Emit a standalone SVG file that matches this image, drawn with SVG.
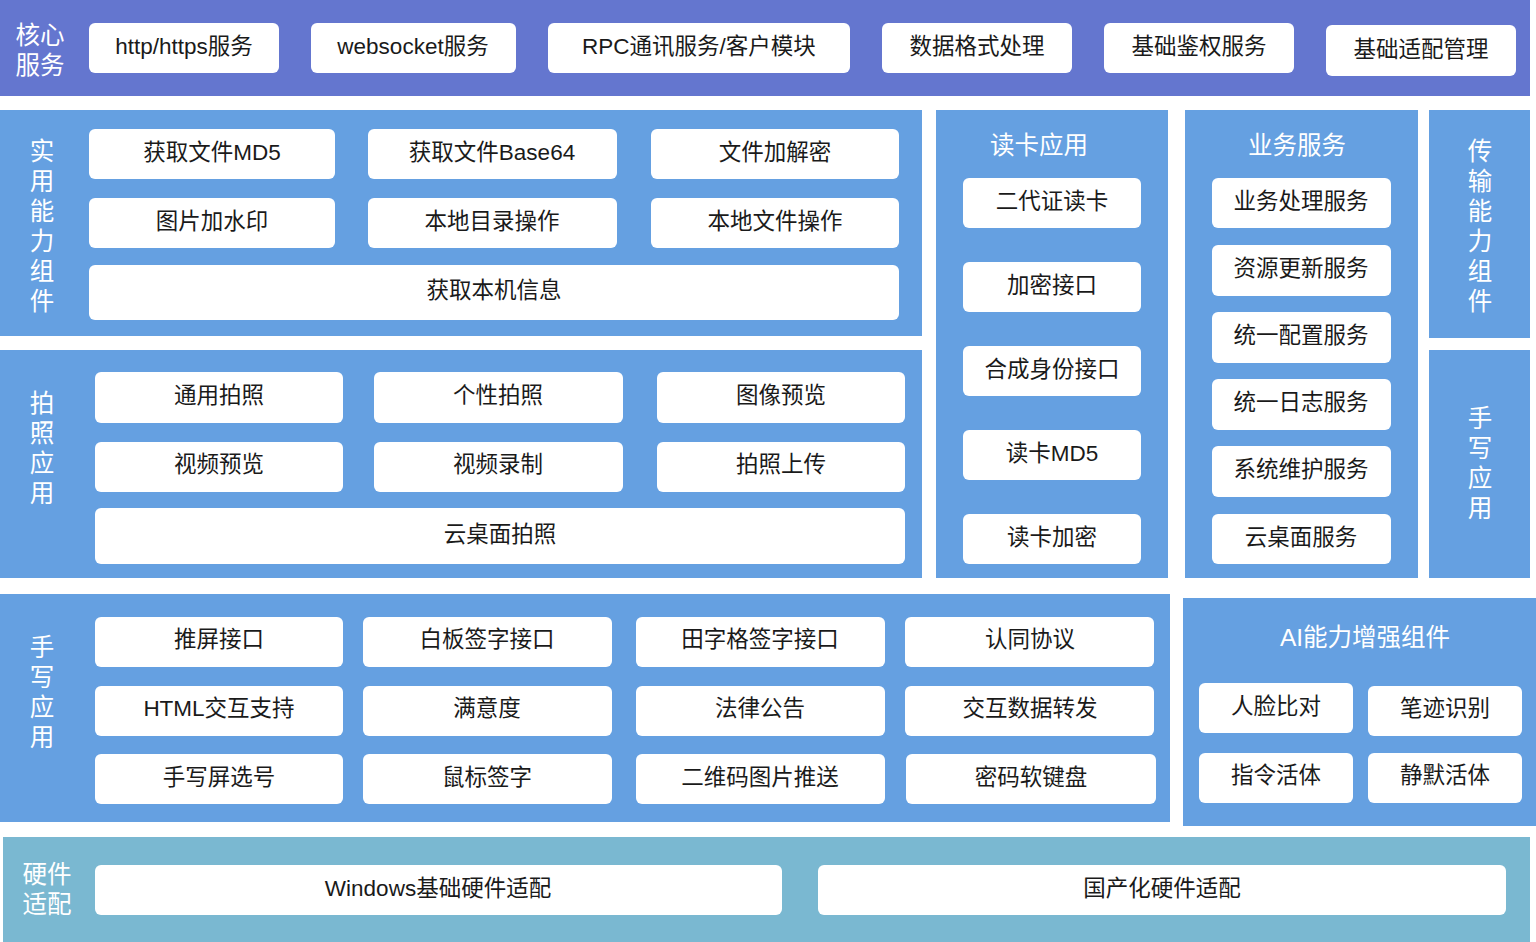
<svg xmlns="http://www.w3.org/2000/svg" width="1536" height="942" viewBox="0 0 1536 942">
<style>
.bg{fill:#ffffff}
.core{fill:#6476cf}
.mid{fill:#65a0e1}
.hw{fill:#7ab8d1}
.box{fill:#ffffff}
.t{font-family:"Liberation Sans","Noto Sans CJK SC",sans-serif;font-size:22.5px;fill:#1a1a1a;text-anchor:middle;dominant-baseline:central}
.w{font-family:"Liberation Sans","Noto Sans CJK SC",sans-serif;font-size:24.5px;fill:#ffffff;text-anchor:middle;dominant-baseline:central}
</style>
<rect class="bg" x="0" y="0" width="1536" height="942"/>
<g id="connectors"></g>

<g id="core">
<rect class="core" x="0" y="0" width="1530" height="96"/>
<text class="w" x="40" y="35">核心</text><text class="w" x="40" y="65">服务</text>
</g>
<g id="core-http"><rect class="box" x="89" y="23" width="190" height="50" rx="6"/><text class="t" x="184" y="46">http/https服务</text></g>
<g id="core-ws"><rect class="box" x="311" y="23" width="205" height="50" rx="6"/><text class="t" x="413" y="46">websocket服务</text></g>
<g id="core-rpc"><rect class="box" x="548" y="23" width="302" height="50" rx="6"/><text class="t" x="699" y="46">RPC通讯服务/客户模块</text></g>
<g id="core-data"><rect class="box" x="882" y="23" width="190" height="50" rx="6"/><text class="t" x="977" y="46">数据格式处理</text></g>
<g id="core-auth"><rect class="box" x="1104" y="23" width="190" height="50" rx="6"/><text class="t" x="1199" y="46">基础鉴权服务</text></g>
<g id="core-adapt"><rect class="box" x="1326" y="25" width="190" height="51" rx="6"/><text class="t" x="1421" y="49">基础适配管理</text></g>

<g id="util">
<rect class="mid" x="0" y="110" width="922" height="226"/>
<text class="w" x="42" y="151">实</text><text class="w" x="42" y="181">用</text><text class="w" x="42" y="211">能</text><text class="w" x="42" y="241">力</text><text class="w" x="42" y="271">组</text><text class="w" x="42" y="301">件</text>
</g>
<g id="util-md5"><rect class="box" x="89" y="129" width="246" height="50" rx="6"/><text class="t" x="212" y="152">获取文件MD5</text></g>
<g id="util-b64"><rect class="box" x="368" y="129" width="249" height="50" rx="6"/><text class="t" x="492" y="152">获取文件Base64</text></g>
<g id="util-enc"><rect class="box" x="651" y="129" width="248" height="50" rx="6"/><text class="t" x="775" y="152">文件加解密</text></g>
<g id="util-wm"><rect class="box" x="89" y="198" width="246" height="50" rx="6"/><text class="t" x="212" y="221">图片加水印</text></g>
<g id="util-dir"><rect class="box" x="368" y="198" width="249" height="50" rx="6"/><text class="t" x="492" y="221">本地目录操作</text></g>
<g id="util-file"><rect class="box" x="651" y="198" width="248" height="50" rx="6"/><text class="t" x="775" y="221">本地文件操作</text></g>
<g id="util-info"><rect class="box" x="89" y="265" width="810" height="55" rx="6"/><text class="t" x="494" y="290">获取本机信息</text></g>

<g id="photo">
<rect class="mid" x="0" y="350" width="922" height="228"/>
<text class="w" x="42" y="403">拍</text><text class="w" x="42" y="433">照</text><text class="w" x="42" y="463">应</text><text class="w" x="42" y="493">用</text>
</g>
<g id="photo-gen"><rect class="box" x="95" y="372" width="248" height="51" rx="6"/><text class="t" x="219" y="395">通用拍照</text></g>
<g id="photo-per"><rect class="box" x="374" y="372" width="249" height="51" rx="6"/><text class="t" x="498" y="395">个性拍照</text></g>
<g id="photo-img"><rect class="box" x="657" y="372" width="248" height="51" rx="6"/><text class="t" x="781" y="395">图像预览</text></g>
<g id="photo-vid"><rect class="box" x="95" y="442" width="248" height="50" rx="6"/><text class="t" x="219" y="464">视频预览</text></g>
<g id="photo-rec"><rect class="box" x="374" y="442" width="249" height="50" rx="6"/><text class="t" x="498" y="464">视频录制</text></g>
<g id="photo-up"><rect class="box" x="657" y="442" width="248" height="50" rx="6"/><text class="t" x="781" y="464">拍照上传</text></g>
<g id="photo-cloud"><rect class="box" x="95" y="508" width="810" height="56" rx="6"/><text class="t" x="500" y="534">云桌面拍照</text></g>

<g id="card">
<rect class="mid" x="936" y="110" width="232" height="468"/>
<text class="w" x="1039" y="145">读卡应用</text>
</g>
<g id="card-id"><rect class="box" x="963" y="178" width="178" height="50" rx="6"/><text class="t" x="1052" y="201">二代证读卡</text></g>
<g id="card-enc"><rect class="box" x="963" y="262" width="178" height="50" rx="6"/><text class="t" x="1052" y="285">加密接口</text></g>
<g id="card-syn"><rect class="box" x="963" y="346" width="178" height="50" rx="6"/><text class="t" x="1052" y="369">合成身份接口</text></g>
<g id="card-md5"><rect class="box" x="963" y="430" width="178" height="50" rx="6"/><text class="t" x="1052" y="453">读卡MD5</text></g>
<g id="card-crypt"><rect class="box" x="963" y="514" width="178" height="50" rx="6"/><text class="t" x="1052" y="537">读卡加密</text></g>

<g id="biz">
<rect class="mid" x="1185" y="110" width="233" height="468"/>
<text class="w" x="1297" y="145">业务服务</text>
</g>
<g id="biz-proc"><rect class="box" x="1212" y="178" width="179" height="50" rx="6"/><text class="t" x="1301" y="201">业务处理服务</text></g>
<g id="biz-res"><rect class="box" x="1212" y="245" width="179" height="51" rx="6"/><text class="t" x="1301" y="268">资源更新服务</text></g>
<g id="biz-cfg"><rect class="box" x="1212" y="312" width="179" height="51" rx="6"/><text class="t" x="1301" y="335">统一配置服务</text></g>
<g id="biz-log"><rect class="box" x="1212" y="379" width="179" height="51" rx="6"/><text class="t" x="1301" y="402">统一日志服务</text></g>
<g id="biz-sys"><rect class="box" x="1212" y="446" width="179" height="51" rx="6"/><text class="t" x="1301" y="469">系统维护服务</text></g>
<g id="biz-cloud"><rect class="box" x="1212" y="514" width="179" height="50" rx="6"/><text class="t" x="1301" y="537">云桌面服务</text></g>

<g id="trans">
<rect class="mid" x="1429" y="110" width="101" height="228"/>
<text class="w" x="1480" y="151">传</text><text class="w" x="1480" y="181">输</text><text class="w" x="1480" y="211">能</text><text class="w" x="1480" y="241">力</text><text class="w" x="1480" y="271">组</text><text class="w" x="1480" y="301">件</text>
</g>
<g id="hand-right">
<rect class="mid" x="1429" y="350" width="101" height="228"/>
<text class="w" x="1480" y="418">手</text><text class="w" x="1480" y="448">写</text><text class="w" x="1480" y="478">应</text><text class="w" x="1480" y="508">用</text>
</g>

<g id="hand">
<rect class="mid" x="0" y="594" width="1170" height="228"/>
<text class="w" x="42" y="647">手</text><text class="w" x="42" y="677">写</text><text class="w" x="42" y="707">应</text><text class="w" x="42" y="737">用</text>
</g>
<g id="hand-push"><rect class="box" x="95" y="617" width="248" height="50" rx="6"/><text class="t" x="219" y="639">推屏接口</text></g>
<g id="hand-board"><rect class="box" x="363" y="617" width="249" height="50" rx="6"/><text class="t" x="487" y="639">白板签字接口</text></g>
<g id="hand-grid"><rect class="box" x="636" y="617" width="249" height="50" rx="6"/><text class="t" x="760" y="639">田字格签字接口</text></g>
<g id="hand-agree"><rect class="box" x="905" y="617" width="249" height="50" rx="6"/><text class="t" x="1030" y="639">认同协议</text></g>
<g id="hand-html"><rect class="box" x="95" y="686" width="248" height="50" rx="6"/><text class="t" x="219" y="708">HTML交互支持</text></g>
<g id="hand-sat"><rect class="box" x="363" y="686" width="249" height="50" rx="6"/><text class="t" x="487" y="708">满意度</text></g>
<g id="hand-law"><rect class="box" x="636" y="686" width="249" height="50" rx="6"/><text class="t" x="760" y="708">法律公告</text></g>
<g id="hand-fwd"><rect class="box" x="905" y="686" width="249" height="50" rx="6"/><text class="t" x="1030" y="708">交互数据转发</text></g>
<g id="hand-sel"><rect class="box" x="95" y="754" width="248" height="50" rx="6"/><text class="t" x="219" y="777">手写屏选号</text></g>
<g id="hand-mouse"><rect class="box" x="363" y="754" width="249" height="50" rx="6"/><text class="t" x="487" y="777">鼠标签字</text></g>
<g id="hand-qr"><rect class="box" x="636" y="754" width="249" height="50" rx="6"/><text class="t" x="760" y="777">二维码图片推送</text></g>
<g id="hand-kb"><rect class="box" x="906" y="754" width="250" height="50" rx="6"/><text class="t" x="1031" y="777">密码软键盘</text></g>

<g id="ai">
<rect class="mid" x="1183" y="598" width="353" height="228"/>
<text class="w" x="1365" y="637">AI能力增强组件</text>
</g>
<g id="ai-face"><rect class="box" x="1199" y="683" width="154" height="50" rx="6"/><text class="t" x="1276" y="706">人脸比对</text></g>
<g id="ai-hand"><rect class="box" x="1368" y="686" width="154" height="50" rx="6"/><text class="t" x="1445" y="708">笔迹识别</text></g>
<g id="ai-cmd"><rect class="box" x="1199" y="753" width="154" height="50" rx="6"/><text class="t" x="1276" y="775">指令活体</text></g>
<g id="ai-silent"><rect class="box" x="1368" y="753" width="154" height="50" rx="6"/><text class="t" x="1445" y="775">静默活体</text></g>

<g id="hw">
<rect class="hw" x="3" y="837" width="1527" height="105"/>
<text class="w" x="47" y="874">硬件</text><text class="w" x="47" y="904">适配</text>
</g>
<g id="hw-win"><rect class="box" x="95" y="865" width="687" height="50" rx="6"/><text class="t" x="438" y="888">Windows基础硬件适配</text></g>
<g id="hw-cn"><rect class="box" x="818" y="865" width="688" height="50" rx="6"/><text class="t" x="1162" y="888">国产化硬件适配</text></g>
</svg>
